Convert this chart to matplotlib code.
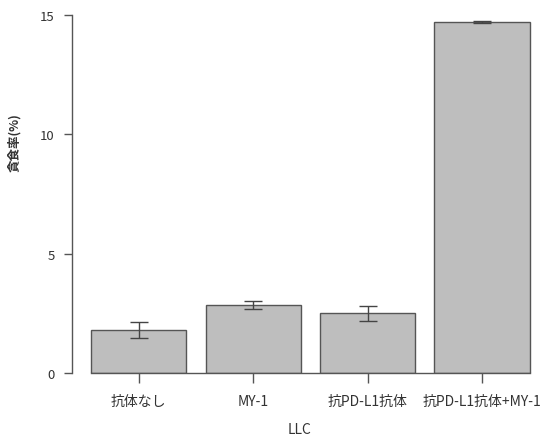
import matplotlib
matplotlib.use('Agg')
import matplotlib.pyplot as plt

plt.rcParams['font.family'] = ['Noto Sans CJK JP', 'DejaVu Sans']

# データ
groups = ['抗体なし', 'MY-1', '抗PD-L1抗体', '抗PD-L1抗体+MY-1']
means = [1.80, 2.86, 2.50, 14.70]
errs = [0.35, 0.17, 0.31, 0.05]
yticks = [0, 5, 10, 15]

# R barplot 風の配置 (幅 1, 間隔 0.2)
pos = [0.7 + 1.2 * i for i in range(len(groups))]

fig = plt.figure(figsize=(5.45, 4.39), dpi=100)
W, H = 545, 439
ax = fig.add_axes([72 / W, (H - 374) / H, (W - 72) / W, (374 - 15.7) / H])

txt = '#333333'
line = '#555555'

ax.bar(pos, means, width=1.0, color='#bebebe', edgecolor=line, linewidth=1.0, zorder=2)
ax.errorbar(pos, means, yerr=errs, fmt='none', ecolor='#444444', elinewidth=1.0,
            capsize=6.5, capthick=1.0, zorder=3, clip_on=False)

ax.set_xlim(0, 4.96)
ax.set_ylim(0, 15)

for s in ['top', 'right']:
    ax.spines[s].set_visible(False)
ax.spines['left'].set_bounds(0, 15)
ax.spines['bottom'].set_bounds(0.2, 4.8)
for s in ['left', 'bottom']:
    ax.spines[s].set_color(line)
    ax.spines[s].set_linewidth(1.0)

ax.set_yticks(yticks)
ax.set_xticks(pos)
ax.set_xticklabels(groups)
ax.tick_params(axis='y', length=6, width=1, color=line, pad=6.5, labelsize=9.5, labelcolor=txt)
ax.tick_params(axis='x', length=7, width=1, color=line, pad=8, labelsize=10, labelcolor=txt)

ax.set_ylabel('貪食率(%)', fontsize=9, color=txt, fontweight='bold')
ax.yaxis.set_label_coords(-0.108, 0.645)
ax.set_xlabel('LLC', fontsize=10, color=txt)
ax.xaxis.set_label_coords(0.482, -0.137)

fig.savefig('out.png', dpi=100)
